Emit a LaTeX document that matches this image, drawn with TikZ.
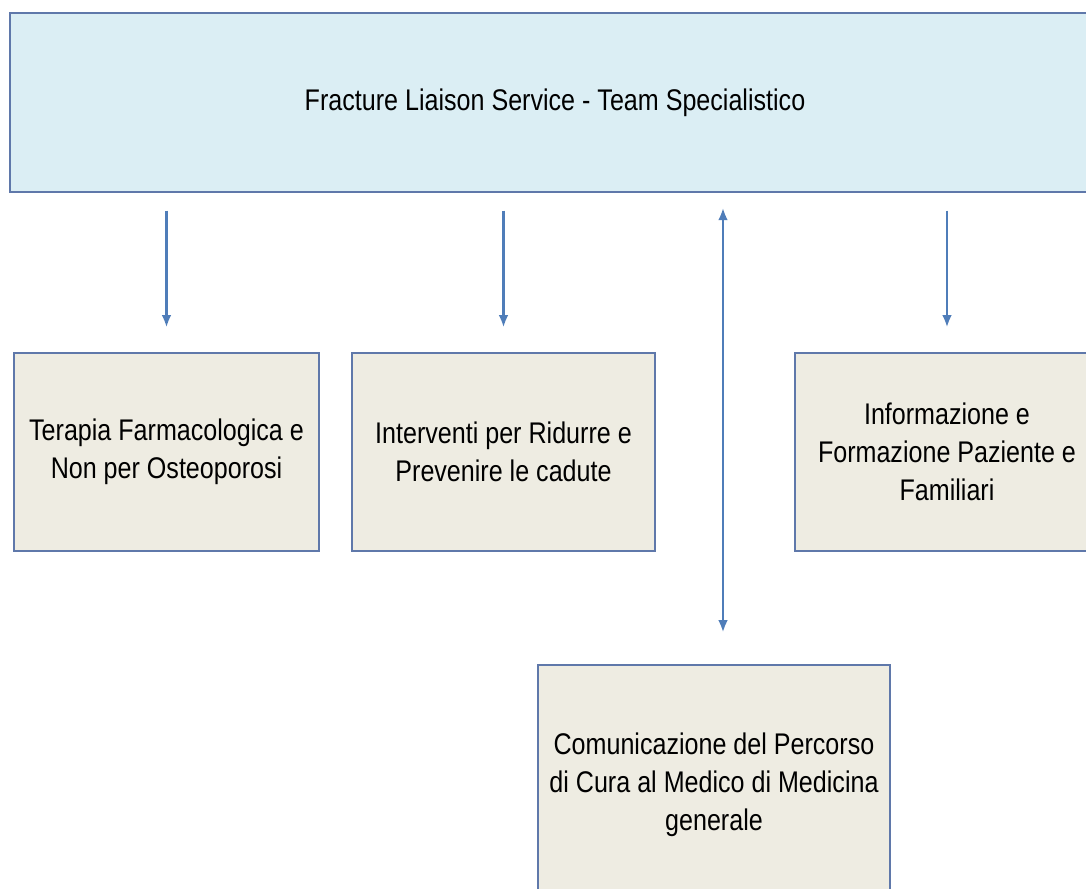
\documentclass[tikz,border=0pt]{standalone}
\usepackage{fontspec}
\setmainfont{Liberation Sans}[FakeStretch=0.84]
\usetikzlibrary{positioning,calc,arrows.meta}
\definecolor{teamblue}{RGB}{219,238,244}
\definecolor{boxgray}{RGB}{238,236,226}
\definecolor{edgeblue}{RGB}{95,120,170}
\definecolor{arrowblue}{RGB}{79,125,185}
\begin{document}
\begin{tikzpicture}[x=0.02cm,y=-0.02cm,
    thick,
    team node/.style={rectangle,draw=edgeblue,line width=1.1pt,fill=teamblue,
      minimum width=21.8cm,minimum height=3.58cm,inner sep=0pt,font=\fontsize{17}{21.5}\selectfont},
    task node/.style={rectangle,draw=edgeblue,line width=1.1pt,fill=boxgray,
      minimum height=3.96cm,inner sep=0pt,align=center,font=\fontsize{17}{21.5}\selectfont},
    link/.style={draw=arrowblue,line width=1.5pt,-{Latex[length=7pt,width=5.5pt]},
      shorten <=10pt,shorten >=14pt}
  ]
  \clip (0,0) rectangle (1086,889);
  \node[team node] (team) at (555,102.5) {Fracture Liaison Service - Team Specialistico};
  \node[task node,minimum width=6.1cm] (terapia) at (166.5,452) {Terapia Farmacologica e\\Non per Osteoporosi};
  \node[task node,minimum width=6.06cm] (cadute) at (503.5,452) {Interventi per Ridurre e\\Prevenire le cadute};
  \node[task node,minimum width=6.1cm] (info) at (947,452) {Informazione e\\Formazione Paziente e\\Familiari};
  \node[task node,minimum width=7.04cm,minimum height=4.8cm] (medico) at (714,785) {Comunicazione del Percorso\\di Cura al Medico di Medicina\\generale};

  % the two-way link sits a little right of the box centre
  \coordinate (mtop) at (723,192);
  \coordinate (mbot) at (723,665);

  \draw[link] (team.south -| terapia.north) -- (terapia.north);
  \draw[link] (team.south -| cadute.north) -- (cadute.north);
  \draw[link] (team.south -| info.north) -- (info.north);
  \draw[link,{Latex[length=7pt,width=5.5pt]}-{Latex[length=7pt,width=5.5pt]},shorten <=9pt,shorten >=18.5pt]
   (mtop) -- (mbot);
\end{tikzpicture}
\end{document}
